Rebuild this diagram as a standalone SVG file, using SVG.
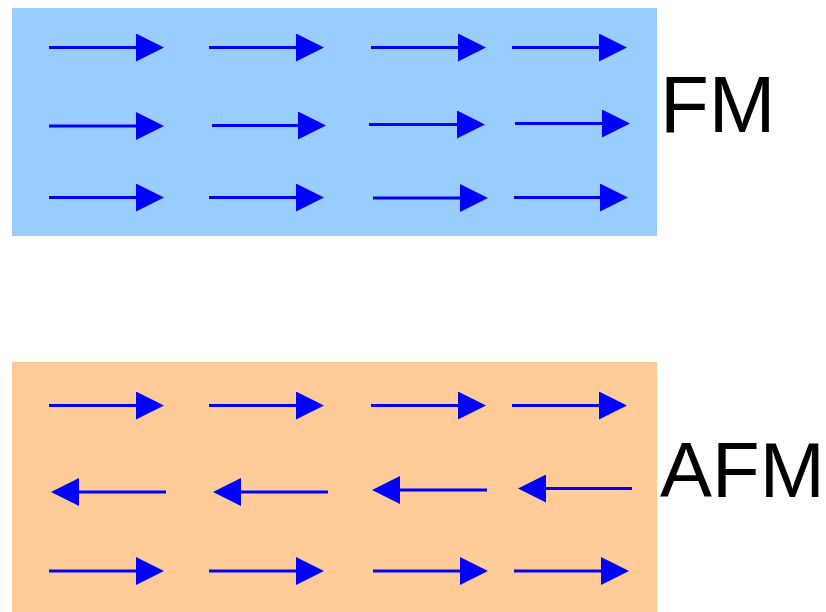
<svg xmlns="http://www.w3.org/2000/svg" width="826" height="612" viewBox="0 0 826 612">
<defs>
<marker id="ah" markerUnits="userSpaceOnUse" markerWidth="28" markerHeight="28" refX="0" refY="14" orient="auto" viewBox="0 0 28 28">
<path d="M0,0 L28,14 L0,28 Z" fill="#0000ff"/>
</marker>
</defs>
<style>
.fm{fill:#99ccff}
.afm{fill:#ffcc99}
.ar{stroke:#0000ff;stroke-width:3;fill:none;marker-end:url(#ah)}
.lbl{font-family:"Liberation Sans",Arial,sans-serif;font-size:80px;fill:#000}
</style>
<rect x="0" y="0" width="826" height="612" fill="#ffffff"/>
<g id="fm-panel">
<rect class="fm" x="12" y="8" width="645" height="228"/>
<text class="lbl" x="660" y="132">FM</text>
</g>
<g id="afm-panel">
<rect class="afm" x="12" y="362" width="645" height="250"/>
<text class="lbl" x="660" y="497" style="font-size:78px">AFM</text>
</g>
<g id="connectors">
<line class="ar" x1="49" y1="47.5" x2="136" y2="47.5"/>
<line class="ar" x1="209" y1="47.5" x2="296" y2="47.5"/>
<line class="ar" x1="371" y1="47.5" x2="458" y2="47.5"/>
<line class="ar" x1="512" y1="47.5" x2="599" y2="47.5"/>
<line class="ar" x1="49" y1="126" x2="136" y2="126"/>
<line class="ar" x1="212" y1="125.5" x2="298" y2="125.5"/>
<line class="ar" x1="369" y1="124.5" x2="457" y2="124.5"/>
<line class="ar" x1="515" y1="123.5" x2="602" y2="123.5"/>
<line class="ar" x1="49" y1="197.5" x2="136" y2="197.5"/>
<line class="ar" x1="209" y1="197.5" x2="296" y2="197.5"/>
<line class="ar" x1="373" y1="198" x2="460" y2="198"/>
<line class="ar" x1="514" y1="197.5" x2="600" y2="197.5"/>
<line class="ar" x1="49" y1="405.5" x2="136" y2="405.5"/>
<line class="ar" x1="209" y1="405.5" x2="296" y2="405.5"/>
<line class="ar" x1="371" y1="405.5" x2="458" y2="405.5"/>
<line class="ar" x1="512" y1="405.5" x2="599" y2="405.5"/>
<line class="ar" x1="166" y1="492" x2="79" y2="492"/>
<line class="ar" x1="328" y1="492" x2="241" y2="492"/>
<line class="ar" x1="487" y1="490" x2="400" y2="490"/>
<line class="ar" x1="632" y1="488.5" x2="546" y2="488.5"/>
<line class="ar" x1="49" y1="571" x2="136" y2="571"/>
<line class="ar" x1="209" y1="571" x2="296" y2="571"/>
<line class="ar" x1="373" y1="571" x2="460" y2="571"/>
<line class="ar" x1="514" y1="571" x2="601" y2="571"/>
</g>
</svg>
